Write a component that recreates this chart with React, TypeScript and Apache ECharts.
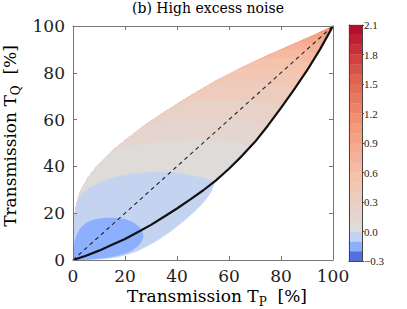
import React, { useEffect, useRef } from 'react';
import * as echarts from 'echarts';

// Upper edge of the filled region (T_P, T_Q in %)
const upperBoundary: number[][] = [
  [0, 0], [0.2, 10], [0.6, 18], [1.5, 24], [3, 29.5], [6, 35.5], [10, 41], [15, 46.5],
  [20, 51], [27, 57], [35, 63], [45, 70], [55, 76.5], [65, 82.2], [75, 87.4], [85, 92.3],
  [93, 96.2], [100, 100],
];
// Black solid curve (lower edge of the filled region)
const lowerBoundary: number[][] = [
  [0, 0], [5, 1.8], [10, 4], [15, 6.5], [20, 9], [25, 12], [30, 15], [35, 18.5], [40, 22],
  [45, 25.8], [50, 29.7], [55, 34], [60, 39], [65, 44.5], [70, 50.5], [75, 57.5], [80, 65],
  [85, 72.8], [90, 81], [95, 90], [100, 100],
];
const diagonal: number[][] = [[0, 0], [100, 100]];

// Contour level lines: where each meets the upper edge / black curve, and its inner points
const contourLevels = [0.1, 0.2, 0.3, 0.4, 0.5, 0.6, 0.7, 0.8, 0.9, 1.0, 1.1, 1.2];
const contourUpperX = [15, 27, 40, 53, 63, 72, 80, 86, 91, 94.5, 97.5, 99.2];
const contourLowerX = [68, 75, 80.5, 85, 88.5, 91.5, 93.8, 95.8, 97.3, 98.5, 99.4, 99.8];
const contourInner: number[][][] = [
  [[20, 48.5], [28, 49.6], [38, 50.6], [48, 51.2], [56, 51.2], [62, 50.5], [66, 49.5]],
  [[32, 58.6], [40, 59.4], [50, 60], [60, 60], [67, 59.6], [72, 58.8]],
  [[47, 68.4], [56, 68.8], [65, 68.6], [72, 68], [77, 67]],
  [[60, 76], [68, 76.1], [75, 75.6], [81, 74.4]],
  [[70, 81.7], [77, 81.6], [83, 80.6], [86.5, 79.6]],
  [[78, 86.3], [84, 86], [88.5, 85]],
  [[85, 90.1], [90, 89.5], [92.5, 88.6]],
  [[90, 92.8], [94, 92.3]],
  [[94, 95.1], [96, 94.8]],
  [[96.5, 97.1]],
  [[98.6, 98.6]],
  [],
];
const topBand = [1.2, 1.3];

// Level 0.0 (light blue) region: top arc and lower edge
const zeroUpperX = 2;
const zeroArc: number[][] = [
  [3.5, 28.2], [6, 30.5], [10, 33], [16, 35.4], [24, 37], [32, 37.6], [40, 37.3], [46, 36],
  [50, 35], [53, 34.2], [54.5, 33.6],
];
const zeroLowerEdge: number[][] = [
  [54, 31.5], [53, 29], [51.5, 26.5], [49.5, 23.8], [47, 21], [44, 18], [40.5, 14.8],
  [37, 11.8], [33, 8.8], [29, 6.2], [25, 4], [21, 2.3], [17, 1.2], [12, 0.5], [6, 0.15], [0, 0],
];
// Level -0.1 region (darker blue blob)
const minusBlob: number[][] = [
  [0, 0], [0.2, 4], [0.7, 8], [1.6, 11], [3, 13.8], [5, 15.8], [8, 17.2], [12, 17.9],
  [16, 18], [20, 17.4], [23, 16.1], [25.3, 14.3], [26.7, 12], [27, 10], [26.3, 7.8],
  [24.8, 5.8], [22.5, 4], [19.5, 2.6], [16, 1.6], [12, 0.9], [8, 0.45], [4, 0.15],
];

// Colorbar
const cbarLevels = [
  -0.3, -0.2, -0.1, 0.0, 0.1, 0.2, 0.3, 0.4, 0.5, 0.6, 0.7, 0.8, 0.9, 1.0, 1.1, 1.2,
  1.3, 1.4, 1.5, 1.6, 1.7, 1.8, 1.9, 2.0, 2.1,
];
const vMin = -0.3;
const vMax = 2.1;

const coolwarmStops: [number, number[]][] = [
  [0.0, [59, 76, 192]], [0.125, [98, 130, 234]], [0.25, [141, 176, 254]],
  [0.375, [184, 208, 249]], [0.5, [221, 221, 221]], [0.625, [245, 196, 173]],
  [0.75, [244, 154, 123]], [0.875, [222, 96, 77]], [1.0, [180, 4, 38]],
];
function coolwarm(t: number): string {
  t = Math.max(0, Math.min(1, t));
  for (let i = 0; i < coolwarmStops.length - 1; i++) {
    const [t0, c0] = coolwarmStops[i];
    const [t1, c1] = coolwarmStops[i + 1];
    if (t <= t1) {
      const f = (t - t0) / (t1 - t0);
      const c = c0.map((v, k) => Math.round(v + (c1[k] - v) * f));
      return `rgb(${c[0]},${c[1]},${c[2]})`;
    }
  }
  return 'rgb(180,4,38)';
}
function bandColor(lo: number, hi: number): string {
  const m = (lo + hi) / 2;
  const t = m < 0 ? 0.5 + (0.5 * m) / -vMin : 0.5 + (0.5 * m) / vMax;
  return coolwarm(t);
}

function onCurve(curve: number[][], x: number): number[] {
  for (let i = 0; i < curve.length - 1; i++) {
    const [x0, y0] = curve[i];
    const [x1, y1] = curve[i + 1];
    if (x >= x0 && x <= x1) return [x, y0 + ((y1 - y0) * (x - x0)) / (x1 - x0)];
  }
  return curve[curve.length - 1];
}

type Poly = { pts: number[][]; color: string };
function buildPolys(): Poly[] {
  const polys: Poly[] = [];
  polys.push({
    pts: [...upperBoundary, ...lowerBoundary.slice().reverse()],
    color: bandColor(topBand[0], topBand[1]),
  });
  for (let i = contourLevels.length - 1; i >= 0; i--) {
    const c = contourLevels[i];
    const ux = contourUpperX[i];
    const bx = contourLowerX[i];
    const pts = [
      ...upperBoundary.filter((p) => p[0] < ux),
      onCurve(upperBoundary, ux),
      ...contourInner[i],
      onCurve(lowerBoundary, bx),
      ...lowerBoundary.filter((p) => p[0] < bx).reverse(),
    ];
    polys.push({ pts, color: bandColor(c - 0.1, c) });
  }
  polys.push({
    pts: [
      ...upperBoundary.filter((p) => p[0] < zeroUpperX),
      onCurve(upperBoundary, zeroUpperX),
      ...zeroArc,
      ...zeroLowerEdge,
    ],
    color: bandColor(-0.1, 0),
  });
  polys.push({ pts: minusBlob, color: bandColor(-0.2, -0.1) });
  return polys;
}

const SERIF = 'DejaVu Serif';
const FRAME = '#777';

export default function App() {
  const ref = useRef<HTMLDivElement>(null);
  useEffect(() => {
    if (!ref.current) return;
    const chart = echarts.init(ref.current, undefined, { renderer: 'svg' });
    const polys = buildPolys();
    const cbarData = cbarLevels.slice(0, -1).map((lo, i) => [0, lo, cbarLevels[i + 1]]);

    const mainAxisCommon = {
      type: 'value' as const,
      min: 0,
      max: 100,
      interval: 20,
      splitLine: { show: false },
      axisLine: { show: true, onZero: false, lineStyle: { color: FRAME, width: 1 } },
      axisTick: { show: true, inside: true, length: 4, lineStyle: { color: FRAME } },
      z: 5,
    };
    const cbarLine = { show: true, onZero: false, lineStyle: { color: '#444', width: 1 } };

    const richStyles = {
      a: { fontFamily: SERIF, fontSize: 17, color: '#222', lineHeight: 24, verticalAlign: 'middle' },
      s: { fontFamily: SERIF, fontSize: 12, color: '#222', verticalAlign: 'bottom' },
      t: { fontFamily: SERIF, fontSize: 14, color: '#222', lineHeight: 18, verticalAlign: 'middle' },
    };

    chart.setOption({
      animation: false,
      backgroundColor: '#fff',
      grid: [
        { left: 73, top: 26, width: 260, height: 234 },
        { left: 349, top: 25, width: 13, height: 236 },
      ],
      xAxis: [
        {
          ...mainAxisCommon,
          gridIndex: 0,
          position: 'bottom',
          axisLabel: { margin: 7, fontFamily: SERIF, fontSize: 17, color: '#222' },
        },
        { ...mainAxisCommon, gridIndex: 0, position: 'top', axisLabel: { show: false } },
        {
          type: 'value', gridIndex: 1, min: 0, max: 1, position: 'bottom', axisLine: cbarLine,
          axisTick: { show: false }, axisLabel: { show: false }, splitLine: { show: false }, z: 5,
        },
        {
          type: 'value', gridIndex: 1, min: 0, max: 1, position: 'top', axisLine: cbarLine,
          axisTick: { show: false }, axisLabel: { show: false }, splitLine: { show: false }, z: 5,
        },
      ],
      yAxis: [
        {
          ...mainAxisCommon,
          gridIndex: 0,
          position: 'left',
          axisLabel: { margin: 8, fontFamily: SERIF, fontSize: 17, color: '#222' },
        },
        { ...mainAxisCommon, gridIndex: 0, position: 'right', axisLabel: { show: false } },
        {
          type: 'value', gridIndex: 1, min: vMin, max: vMax, interval: 0.3, position: 'left',
          axisLine: cbarLine, axisTick: { show: false }, axisLabel: { show: false },
          splitLine: { show: false }, z: 5,
        },
        {
          type: 'value', gridIndex: 1, min: vMin, max: vMax, interval: 0.3, position: 'right',
          axisLine: cbarLine,
          axisTick: { show: true, inside: false, length: 2, lineStyle: { color: '#444' } },
          axisLabel: {
            margin: 2,
            fontFamily: 'Liberation Serif',
            fontSize: 11,
            color: '#222',
            formatter: (v: number) => {
              if (Math.abs(v) < 1e-9) return '0.0';
              return v < 0 ? '\u2212' + Math.abs(v).toFixed(1) : v.toFixed(1);
            },
          },
          splitLine: { show: false },
          z: 5,
        },
      ],
      series: [
        {
          type: 'custom',
          xAxisIndex: 0,
          yAxisIndex: 0,
          z: 1,
          clip: true,
          data: polys.map((_, i) => [50, 50, i]),
          renderItem: (params: any, api: any) => {
            const p = polys[params.dataIndex];
            return {
              type: 'polygon',
              shape: { points: p.pts.map((q) => api.coord(q)) },
              style: { fill: p.color, stroke: p.color, lineWidth: 0.5 },
            };
          },
        },
        {
          type: 'line',
          xAxisIndex: 0,
          yAxisIndex: 0,
          z: 2,
          data: diagonal,
          showSymbol: false,
          lineStyle: { color: '#222', width: 1.1, type: [4, 3.5] },
        },
        {
          type: 'line',
          xAxisIndex: 0,
          yAxisIndex: 0,
          z: 3,
          data: lowerBoundary,
          showSymbol: false,
          lineStyle: { color: '#111', width: 2.2 },
        },
        {
          type: 'custom',
          xAxisIndex: 2,
          yAxisIndex: 3,
          z: 1,
          data: cbarData,
          renderItem: (params: any, api: any) => {
            const lo = api.value(1);
            const hi = api.value(2);
            const a = api.coord([0, lo]);
            const b = api.coord([1, hi]);
            const col = bandColor(lo, hi);
            return {
              type: 'rect',
              shape: { x: a[0], y: b[1], width: b[0] - a[0], height: a[1] - b[1] },
              style: { fill: col, stroke: col, lineWidth: 0.3 },
            };
          },
        },
      ],
      graphic: [
        {
          type: 'text',
          x: 208,
          y: 8,
          style: {
            text: '{t|(b) High excess noise}',
            rich: richStyles,
            align: 'center',
            verticalAlign: 'middle',
          },
        },
        {
          type: 'text',
          x: 217,
          y: 296,
          style: {
            text: '{a|Transmission T}{s|P}{a|  [%]}',
            rich: richStyles,
            align: 'center',
            verticalAlign: 'middle',
          },
        },
        {
          type: 'text',
          x: 10,
          y: 136,
          rotation: Math.PI / 2,
          style: {
            text: '{a|Transmission T}{s|Q}{a|  [%]}',
            rich: richStyles,
            align: 'center',
            verticalAlign: 'middle',
          },
        },
      ],
    });
    return () => chart.dispose();
  }, []);
  return (
    <div
      ref={ref}
      style={{ position: 'fixed', left: 0, top: 0, width: 407, height: 309, background: '#fff' }}
    />
  );
}
